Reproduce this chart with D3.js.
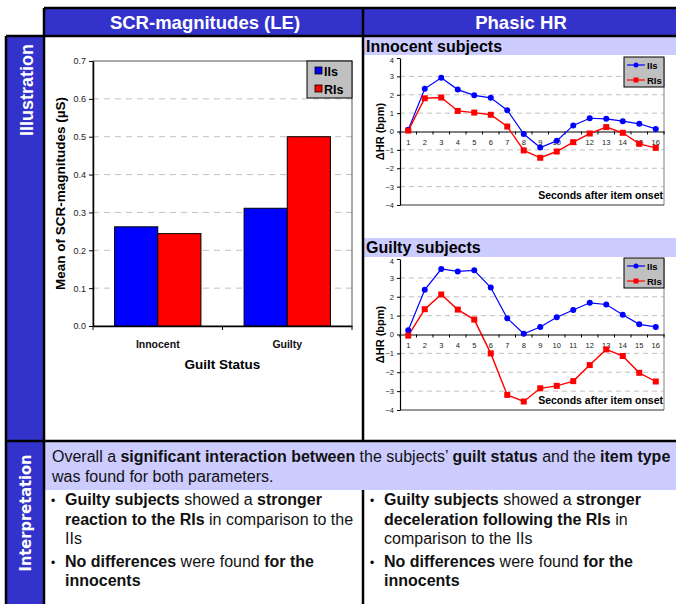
<!DOCTYPE html>
<html>
<head>
<meta charset="utf-8">
<script src="https://cdn.jsdelivr.net/npm/d3@7"></script>
<style>
  html, body { margin: 0; padding: 0; background: #fff; }
  svg { display: block; font-family: "Liberation Sans", Arial, sans-serif; }
</style>
</head>
<body>
<svg id="chart" width="676" height="604"></svg>
<script>
// ---- data ----
const groups = ['Innocent', 'Guilty'];
const itemTypes = ['IIs', 'RIs'];
const scrIIs = [0.262, 0.311];
const scrRIs = [0.244, 0.500];
const scrTicks = [0, 0.1, 0.2, 0.3, 0.4, 0.5, 0.6, 0.7];

const seconds = [1, 2, 3, 4, 5, 6, 7, 8, 9, 10, 11, 12, 13, 14, 15, 16];
const hrTicks = [-4, -3, -2, -1, 0, 1, 2, 3, 4];
const innocentIIs = [0.10, 2.32, 2.92, 2.28, 1.97, 1.83, 1.16, -0.14, -0.87, -0.51, 0.33, 0.72, 0.69, 0.56, 0.42, 0.14];
const innocentRIs = [0.05, 1.81, 1.85, 1.12, 1.03, 0.91, 0.27, -1.03, -1.43, -1.09, -0.58, -0.11, 0.24, -0.07, -0.67, -0.89];
const guiltyIIs = [0.22, 2.37, 3.47, 3.34, 3.40, 2.49, 0.86, 0.04, 0.40, 0.91, 1.30, 1.68, 1.59, 1.05, 0.54, 0.40];
const guiltyRIs = [-0.06, 1.34, 2.12, 1.32, 0.79, -1.00, -3.20, -3.55, -2.85, -2.72, -2.47, -1.62, -0.79, -1.14, -2.03, -2.49];

const colIIs = '#0000ff';
const colRIs = '#ff0000';
const headBlue = '#3333cc';
const lavender = '#ccccff';

const svg = d3.select('#chart');

// ---- frame: headers, side column, bands ----
svg.append('rect').attr('x', 0).attr('y', 0).attr('width', 676).attr('height', 604).attr('fill', '#fff');
svg.append('rect').attr('x', 44).attr('y', 8).attr('width', 632).attr('height', 28).attr('fill', headBlue);
svg.append('rect').attr('x', 6).attr('y', 36).attr('width', 38).attr('height', 568).attr('fill', headBlue);
svg.append('rect').attr('x', 363).attr('y', 37).attr('width', 313).attr('height', 18).attr('fill', lavender);
svg.append('rect').attr('x', 363).attr('y', 238).attr('width', 313).attr('height', 19).attr('fill', lavender);
svg.append('rect').attr('x', 44).attr('y', 442).attr('width', 632).attr('height', 48).attr('fill', lavender);

const lines = [
  [44, 8, 676, 8], [44, 8, 44, 36], [6, 36, 676, 36], [6, 36, 6, 604], [44, 36, 44, 604],
  [363, 8, 363, 441], [6, 441, 676, 441], [363, 490, 363, 604]
];
svg.append('g').selectAll('line').data(lines).enter().append('line')
  .attr('x1', d => d[0]).attr('y1', d => d[1]).attr('x2', d => d[2]).attr('y2', d => d[3])
  .attr('stroke', '#000').attr('stroke-width', 2.5);

svg.append('text').attr('x', 205).attr('y', 28.5).attr('text-anchor', 'middle')
  .attr('fill', '#fff').attr('font-weight', 'bold').attr('font-size', 18.5).text('SCR-magnitudes (LE)');
svg.append('text').attr('x', 521).attr('y', 28.5).attr('text-anchor', 'middle')
  .attr('fill', '#fff').attr('font-weight', 'bold').attr('font-size', 18.5).text('Phasic HR');
svg.append('text').attr('transform', 'translate(32.5,90) rotate(-90)').attr('text-anchor', 'middle')
  .attr('fill', '#fff').attr('font-weight', 'bold').attr('font-size', 18).text('Illustration');
svg.append('text').attr('transform', 'translate(31,513) rotate(-90)').attr('text-anchor', 'middle')
  .attr('fill', '#fff').attr('font-weight', 'bold').attr('font-size', 15)
  .attr('font-family', '"DejaVu Sans", sans-serif').attr('textLength', 117).attr('lengthAdjust', 'spacingAndGlyphs')
  .text('Interpretation');

svg.append('text').attr('x', 366).attr('y', 52).attr('font-weight', 'bold').attr('font-size', 16).text('Innocent subjects');
svg.append('text').attr('x', 366).attr('y', 253).attr('font-weight', 'bold').attr('font-size', 16).text('Guilty subjects');

// ---- SCR bar chart ----
const bx0 = 93, bx1 = 352, by0 = 326, by1 = 61;
const x0 = d3.scaleBand().domain(groups).range([bx0, bx1]).paddingInner(0).paddingOuter(0);
const x1 = d3.scaleBand().domain(itemTypes).range([0, x0.bandwidth()]).paddingOuter(0.5).paddingInner(0);
const ys = d3.scaleLinear().domain([0, 0.7]).range([by0, by1]);
const bar = svg.append('g');

bar.append('g').selectAll('line').data(scrTicks.filter(t => t > 0 && t < 0.7)).enter().append('line')
  .attr('x1', bx0).attr('x2', bx1).attr('y1', d => ys(d)).attr('y2', d => ys(d))
  .attr('stroke', '#c0c0c0').attr('stroke-dasharray', '6,5');
bar.append('rect').attr('x', bx0).attr('y', by1).attr('width', bx1 - bx0).attr('height', by0 - by1)
  .attr('fill', 'none').attr('stroke', '#555').attr('stroke-width', 1);

const barRows = groups.map((g, i) => ({ g, vals: [scrIIs[i], scrRIs[i]] }));
bar.append('g').selectAll('g').data(barRows).enter().append('g')
  .attr('transform', d => `translate(${x0(d.g)},0)`)
  .selectAll('rect').data(d => d.vals.map((v, j) => ({ key: itemTypes[j], v }))).enter().append('rect')
  .attr('x', d => x1(d.key)).attr('width', x1.bandwidth())
  .attr('y', d => ys(d.v)).attr('height', d => ys(0) - ys(d.v))
  .attr('fill', d => d.key === 'IIs' ? colIIs : colRIs).attr('stroke', '#000').attr('stroke-width', 1);

const yAxisB = bar.append('g').attr('transform', `translate(${bx0},0)`)
  .call(d3.axisLeft(ys).tickValues(scrTicks).tickFormat(d3.format('.1f')).tickSize(4).tickSizeOuter(0));
const xAxisB = bar.append('g').attr('transform', `translate(0,${by0})`)
  .call(d3.axisBottom(x0).tickSize(0).tickSizeOuter(0));
[yAxisB, xAxisB].forEach(a => {
  a.select('.domain').attr('stroke', '#000').attr('stroke-width', 1.5);
  a.selectAll('.tick line').attr('stroke', '#000');
});
yAxisB.selectAll('.tick text').attr('font-size', 9).attr('fill', '#222').attr('font-family', '"Liberation Sans", Arial');
xAxisB.selectAll('.tick text').attr('font-size', 10.5).attr('font-weight', 'bold').attr('fill', '#111')
  .attr('font-family', '"Liberation Sans", Arial').attr('dy', 0).attr('y', 22);
bar.append('g').selectAll('line').data([bx0, (bx0 + bx1) / 2, bx1]).enter().append('line')
  .attr('x1', d => d).attr('x2', d => d).attr('y1', by0).attr('y2', by0 + 4).attr('stroke', '#000');

bar.append('text').attr('x', (bx0 + bx1) / 2).attr('y', 369).attr('text-anchor', 'middle')
  .attr('font-weight', 'bold').attr('font-size', 13.5).text('Guilt Status');
bar.append('text').attr('transform', `translate(64.5,${(by0 + by1) / 2}) rotate(-90)`).attr('text-anchor', 'middle')
  .attr('font-weight', 'bold').attr('font-size', 13.5).text('Mean of SCR-magnitudes (µS)');

const legB = bar.append('g').attr('transform', 'translate(307,61)');
legB.append('rect').attr('width', 45).attr('height', 37).attr('fill', '#c0c0c0').attr('stroke', '#000');
legB.selectAll('g').data(itemTypes).enter().append('g')
  .attr('transform', (d, i) => `translate(0,${10 + i * 18})`)
  .each(function (d) {
    const gg = d3.select(this);
    gg.append('rect').attr('x', 8).attr('y', -4).attr('width', 7).attr('height', 7)
      .attr('fill', d === 'IIs' ? colIIs : colRIs).attr('stroke', '#000').attr('stroke-width', 0.8);
    gg.append('text').attr('x', 17).attr('y', 4.5).attr('font-weight', 'bold').attr('font-size', 12.5).text(d);
  });

// ---- phasic HR line charts ----
function hrChart(top, bottom, iis, ris) {
  const L = 400, R = 664;
  const xb = d3.scaleBand().domain(seconds).range([L, R]);
  const xp = d => xb(d) + xb.bandwidth() / 2;
  const y = d3.scaleLinear().domain([-4, 4]).range([bottom, top]);
  const g = svg.append('g');

  g.append('g').selectAll('line').data(hrTicks.filter(t => t !== 0 && t !== -4 && t !== 4)).enter().append('line')
    .attr('x1', L).attr('x2', R).attr('y1', d => y(d)).attr('y2', d => y(d))
    .attr('stroke', '#c0c0c0').attr('stroke-dasharray', '5,4');
  g.append('line').attr('x1', R).attr('x2', R).attr('y1', top).attr('y2', bottom).attr('stroke', '#808080');
  g.append('line').attr('x1', L).attr('x2', R).attr('y1', bottom).attr('y2', bottom).attr('stroke', '#333');

  const ya = g.append('g').attr('transform', `translate(${L},0)`)
    .call(d3.axisLeft(y).tickValues(hrTicks).tickSize(3).tickSizeOuter(0));
  ya.select('.domain').attr('stroke', '#000').attr('stroke-width', 1.2);
  ya.selectAll('.tick line').attr('stroke', '#000');
  ya.selectAll('.tick text').attr('font-size', 7.5).attr('fill', '#222').attr('font-family', '"Liberation Sans", Arial')
    .attr('dy', d => d === 4 ? '0.55em' : '0.32em');

  const xa = g.append('g').attr('transform', `translate(0,${y(0)})`)
    .call(d3.axisBottom(xb).tickSize(0).tickSizeOuter(0));
  xa.select('.domain').attr('stroke', '#000').attr('stroke-width', 1.2);
  xa.selectAll('.tick text').attr('font-size', 7.5).attr('fill', '#222').attr('dy', 0).attr('y', 13)
    .attr('font-family', '"Liberation Sans", Arial');
  g.append('g').selectAll('line').data(seconds.concat([17])).enter().append('line')
    .attr('x1', d => L + (d - 1) * xb.bandwidth()).attr('x2', d => L + (d - 1) * xb.bandwidth())
    .attr('y1', y(0)).attr('y2', y(0) + 3).attr('stroke', '#000');

  const line = d3.line().x((d, i) => xp(seconds[i])).y(d => y(d));
  g.append('path').datum(iis).attr('d', line).attr('fill', 'none').attr('stroke', colIIs).attr('stroke-width', 1.2);
  g.append('path').datum(ris).attr('d', line).attr('fill', 'none').attr('stroke', colRIs).attr('stroke-width', 1.4);
  g.append('g').selectAll('circle').data(iis).enter().append('circle')
    .attr('cx', (d, i) => xp(seconds[i])).attr('cy', d => y(d)).attr('r', 3).attr('fill', colIIs);
  g.append('g').selectAll('rect').data(ris).enter().append('rect')
    .attr('x', (d, i) => xp(seconds[i]) - 3).attr('y', d => y(d) - 3).attr('width', 6).attr('height', 6).attr('fill', colRIs);

  g.append('text').attr('x', R - 1).attr('y', bottom - 6).attr('text-anchor', 'end')
    .attr('font-weight', 'bold').attr('font-size', 10.5).text('Seconds after item onset');
  g.append('text').attr('transform', `translate(384,${(top + bottom) / 2}) rotate(-90)`).attr('text-anchor', 'middle')
    .attr('font-weight', 'bold').attr('font-size', 11).text('ΔHR (bpm)');

  const leg = g.append('g').attr('transform', `translate(624,${top - 1})`);
  leg.append('rect').attr('width', 40).attr('height', 30).attr('fill', '#c0c0c0').attr('stroke', '#000');
  leg.selectAll('g').data(itemTypes).enter().append('g')
    .attr('transform', (d, i) => `translate(0,${8 + i * 15})`)
    .each(function (d) {
      const gg = d3.select(this);
      const c = d === 'IIs' ? colIIs : colRIs;
      gg.append('line').attr('x1', 3).attr('x2', 21).attr('stroke', c).attr('stroke-width', 1.2);
      if (d === 'IIs') gg.append('circle').attr('cx', 12).attr('r', 2.5).attr('fill', c);
      else gg.append('rect').attr('x', 9.5).attr('y', -2.5).attr('width', 5).attr('height', 5).attr('fill', c);
      gg.append('text').attr('x', 23).attr('y', 3.5).attr('font-weight', 'bold').attr('font-size', 9.5).text(d);
    });
}
hrChart(58, 205, innocentIIs, innocentRIs);
hrChart(259, 410, guiltyIIs, guiltyRIs);

// ---- interpretation text ----
function richLine(x, y, parts) {
  const t = svg.append('text').attr('x', x).attr('y', y).attr('font-size', 16).attr('fill', '#111');
  parts.forEach(p => t.append('tspan').attr('font-weight', p[1] ? 'bold' : 'normal').text(p[0]));
}
richLine(52, 462, [['Overall a ', 0], ['significant interaction between', 1], [' the subjects\u2019 ', 0],
  ['guilt status', 1], [' and the ', 0], ['item type', 1]]);
richLine(52, 482, [['was found for both parameters.', 0]]);

const bullets = [[51, 505], [51, 567], [370, 505], [370, 567]];
svg.append('g').selectAll('text').data(bullets).enter().append('text')
  .attr('x', d => d[0]).attr('y', d => d[1]).attr('font-size', 12).text('•');

richLine(65, 505, [['Guilty subjects', 1], [' showed a ', 0], ['stronger', 1]]);
richLine(65, 525, [['reaction to the RIs', 1], [' in comparison to the', 0]]);
richLine(65, 544, [['IIs', 0]]);
richLine(65, 567, [['No differences', 1], [' were found ', 0], ['for the', 1]]);
richLine(65, 586, [['innocents', 1]]);

richLine(384, 505, [['Guilty subjects', 1], [' showed a ', 0], ['stronger', 1]]);
richLine(384, 525, [['deceleration following the RIs', 1], [' in', 0]]);
richLine(384, 544, [['comparison to the IIs', 0]]);
richLine(384, 567, [['No differences', 1], [' were found ', 0], ['for the', 1]]);
richLine(384, 586, [['innocents', 1]]);
</script>
</body>
</html>
